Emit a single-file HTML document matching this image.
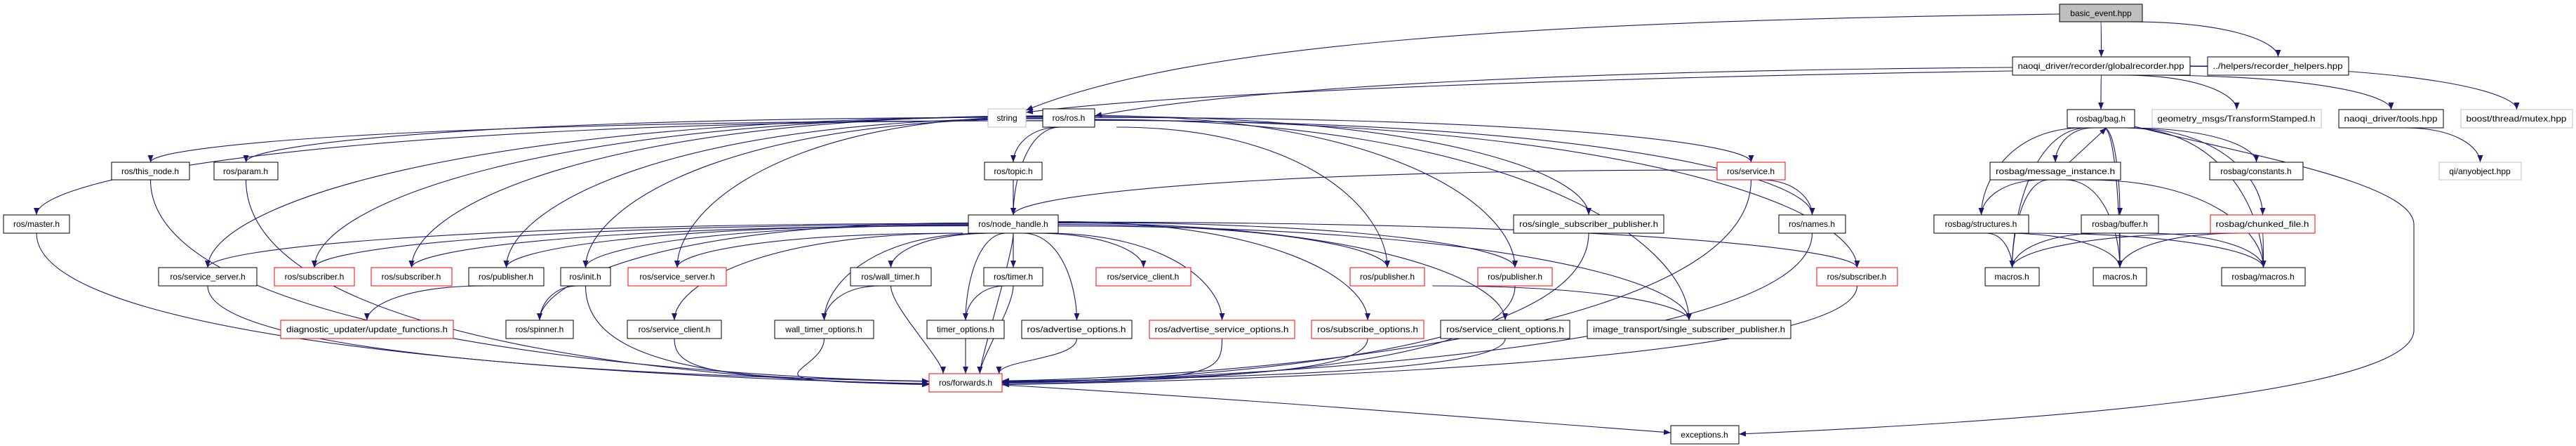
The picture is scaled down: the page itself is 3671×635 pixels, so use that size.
<!DOCTYPE html>
<html><head><meta charset="utf-8"><style>
html,body{margin:0;padding:0;background:#fff;}
svg{display:block;}
text{font-family:"Liberation Sans",sans-serif;font-size:12px;fill:#000;}
</style></head><body>
<svg id="g" width="3671" height="635" viewBox="0 0 3671 635" xmlns="http://www.w3.org/2000/svg">
<defs><marker id="a" markerWidth="10" markerHeight="8" refX="10" refY="4" orient="auto" markerUnits="userSpaceOnUse"><path d="M0,0 L10,4 L0,8 z" fill="#191970"/></marker></defs>
<g id="edges" fill="none" stroke="#191970" stroke-width="1.1"></g>
<g id="nodes">
<rect x="2935" y="6" width="118" height="25" fill="#bfbfbf" stroke="#000"/><text x="2994" y="23" text-anchor="middle">basic_event.hpp</text>
<rect x="2868" y="81" width="253" height="26" fill="#fff" stroke="#000"/><text x="2994" y="98" text-anchor="middle" textLength="237" lengthAdjust="spacingAndGlyphs">naoqi_driver/recorder/globalrecorder.hpp</text>
<rect x="3146" y="81" width="201" height="26" fill="#fff" stroke="#000"/><text x="3246" y="98" text-anchor="middle" textLength="185" lengthAdjust="spacingAndGlyphs">../helpers/recorder_helpers.hpp</text>
<rect x="1408" y="155" width="54" height="26" fill="#fff" stroke="#bfbfbf"/><text x="1435" y="172" text-anchor="middle">string</text>
<rect x="1486" y="155" width="74" height="26" fill="#fff" stroke="#000"/><text x="1523" y="172" text-anchor="middle">ros/ros.h</text>
<rect x="2946" y="156" width="96" height="26" fill="#fff" stroke="#000"/><text x="2994" y="173" text-anchor="middle">rosbag/bag.h</text>
<rect x="3067" y="156" width="241" height="26" fill="#fff" stroke="#bfbfbf"/><text x="3187" y="173" text-anchor="middle" textLength="225" lengthAdjust="spacingAndGlyphs">geometry_msgs/TransformStamped.h</text>
<rect x="3333" y="156" width="149" height="26" fill="#fff" stroke="#000"/><text x="3407" y="173" text-anchor="middle" textLength="133" lengthAdjust="spacingAndGlyphs">naoqi_driver/tools.hpp</text>
<rect x="3507" y="156" width="159" height="26" fill="#fff" stroke="#bfbfbf"/><text x="3586" y="173" text-anchor="middle" textLength="143" lengthAdjust="spacingAndGlyphs">boost/thread/mutex.hpp</text>
<rect x="159" y="231" width="111" height="25" fill="#fff" stroke="#000"/><text x="214" y="248" text-anchor="middle">ros/this_node.h</text>
<rect x="305" y="231" width="91" height="25" fill="#fff" stroke="#000"/><text x="350" y="248" text-anchor="middle">ros/param.h</text>
<rect x="1403" y="231" width="82" height="25" fill="#fff" stroke="#000"/><text x="1444" y="248" text-anchor="middle">ros/topic.h</text>
<rect x="2447" y="231" width="97" height="25" fill="#fff" stroke="#f00"/><text x="2495" y="248" text-anchor="middle">ros/service.h</text>
<rect x="2836" y="231" width="186" height="25" fill="#fff" stroke="#000"/><text x="2929" y="248" text-anchor="middle" textLength="170" lengthAdjust="spacingAndGlyphs">rosbag/message_instance.h</text>
<rect x="3149" y="231" width="133" height="25" fill="#fff" stroke="#000"/><text x="3215" y="248" text-anchor="middle">rosbag/constants.h</text>
<rect x="3476" y="231" width="117" height="25" fill="#fff" stroke="#bfbfbf"/><text x="3534" y="248" text-anchor="middle">qi/anyobject.hpp</text>
<rect x="5" y="306" width="94" height="26" fill="#fff" stroke="#000"/><text x="52" y="323" text-anchor="middle">ros/master.h</text>
<rect x="1380" y="306" width="128" height="26" fill="#fff" stroke="#000"/><text x="1444" y="323" text-anchor="middle">ros/node_handle.h</text>
<rect x="2157" y="306" width="214" height="26" fill="#fff" stroke="#000"/><text x="2264" y="323" text-anchor="middle" textLength="198" lengthAdjust="spacingAndGlyphs">ros/single_subscriber_publisher.h</text>
<rect x="2535" y="306" width="95" height="26" fill="#fff" stroke="#000"/><text x="2582" y="323" text-anchor="middle">ros/names.h</text>
<rect x="2756" y="306" width="135" height="26" fill="#fff" stroke="#000"/><text x="2823" y="323" text-anchor="middle">rosbag/structures.h</text>
<rect x="2966" y="306" width="110" height="26" fill="#fff" stroke="#000"/><text x="3021" y="323" text-anchor="middle">rosbag/buffer.h</text>
<rect x="3150" y="306" width="149" height="26" fill="#fff" stroke="#f00"/><text x="3224" y="323" text-anchor="middle" textLength="133" lengthAdjust="spacingAndGlyphs">rosbag/chunked_file.h</text>
<rect x="226" y="381" width="140" height="26" fill="#fff" stroke="#000"/><text x="296" y="398" text-anchor="middle">ros/service_server.h</text>
<rect x="391" y="381" width="114" height="26" fill="#fff" stroke="#f00"/><text x="448" y="398" text-anchor="middle">ros/subscriber.h</text>
<rect x="529" y="381" width="115" height="26" fill="#fff" stroke="#f00"/><text x="586" y="398" text-anchor="middle">ros/subscriber.h</text>
<rect x="668" y="381" width="107" height="26" fill="#fff" stroke="#000"/><text x="721" y="398" text-anchor="middle">ros/publisher.h</text>
<rect x="799" y="381" width="71" height="26" fill="#fff" stroke="#000"/><text x="834" y="398" text-anchor="middle">ros/init.h</text>
<rect x="895" y="381" width="140" height="26" fill="#fff" stroke="#f00"/><text x="965" y="398" text-anchor="middle">ros/service_server.h</text>
<rect x="1212" y="381" width="115" height="26" fill="#fff" stroke="#000"/><text x="1269" y="398" text-anchor="middle">ros/wall_timer.h</text>
<rect x="1402" y="381" width="84" height="26" fill="#fff" stroke="#000"/><text x="1444" y="398" text-anchor="middle">ros/timer.h</text>
<rect x="1562" y="381" width="135" height="26" fill="#fff" stroke="#f00"/><text x="1629" y="398" text-anchor="middle">ros/service_client.h</text>
<rect x="1924" y="381" width="106" height="26" fill="#fff" stroke="#f00"/><text x="1977" y="398" text-anchor="middle">ros/publisher.h</text>
<rect x="2106" y="381" width="106" height="26" fill="#fff" stroke="#f00"/><text x="2159" y="398" text-anchor="middle">ros/publisher.h</text>
<rect x="2589" y="381" width="115" height="26" fill="#fff" stroke="#f00"/><text x="2646" y="398" text-anchor="middle">ros/subscriber.h</text>
<rect x="2829" y="381" width="77" height="26" fill="#fff" stroke="#000"/><text x="2867" y="398" text-anchor="middle">macros.h</text>
<rect x="2983" y="381" width="76" height="26" fill="#fff" stroke="#000"/><text x="3021" y="398" text-anchor="middle">macros.h</text>
<rect x="3166" y="381" width="119" height="26" fill="#fff" stroke="#000"/><text x="3225" y="398" text-anchor="middle">rosbag/macros.h</text>
<rect x="400" y="456" width="246" height="26" fill="#fff" stroke="#f00"/><text x="523" y="473" text-anchor="middle" textLength="230" lengthAdjust="spacingAndGlyphs">diagnostic_updater/update_functions.h</text>
<rect x="721" y="456" width="96" height="26" fill="#fff" stroke="#000"/><text x="769" y="473" text-anchor="middle">ros/spinner.h</text>
<rect x="894" y="456" width="134" height="26" fill="#fff" stroke="#000"/><text x="961" y="473" text-anchor="middle">ros/service_client.h</text>
<rect x="1104" y="456" width="141" height="26" fill="#fff" stroke="#000"/><text x="1174" y="473" text-anchor="middle">wall_timer_options.h</text>
<rect x="1321" y="456" width="110" height="26" fill="#fff" stroke="#000"/><text x="1376" y="473" text-anchor="middle">timer_options.h</text>
<rect x="1456" y="456" width="157" height="26" fill="#fff" stroke="#000"/><text x="1534" y="473" text-anchor="middle" textLength="141" lengthAdjust="spacingAndGlyphs">ros/advertise_options.h</text>
<rect x="1638" y="456" width="207" height="26" fill="#fff" stroke="#f00"/><text x="1741" y="473" text-anchor="middle" textLength="191" lengthAdjust="spacingAndGlyphs">ros/advertise_service_options.h</text>
<rect x="1869" y="456" width="160" height="26" fill="#fff" stroke="#f00"/><text x="1949" y="473" text-anchor="middle" textLength="144" lengthAdjust="spacingAndGlyphs">ros/subscribe_options.h</text>
<rect x="2053" y="456" width="184" height="26" fill="#fff" stroke="#000"/><text x="2145" y="473" text-anchor="middle" textLength="168" lengthAdjust="spacingAndGlyphs">ros/service_client_options.h</text>
<rect x="2262" y="456" width="290" height="26" fill="#fff" stroke="#000"/><text x="2407" y="473" text-anchor="middle" textLength="274" lengthAdjust="spacingAndGlyphs">image_transport/single_subscriber_publisher.h</text>
<rect x="1324" y="532" width="104" height="26" fill="#fff" stroke="#f00"/><text x="1376" y="549" text-anchor="middle">ros/forwards.h</text>
<rect x="2381" y="606" width="97" height="26" fill="#fff" stroke="#000"/><text x="2429" y="623" text-anchor="middle">exceptions.h</text>
</g>
</svg>
<script>
var N={be:[2935,6,3053,31],gr:[2868,81,3121,107],hl:[3146,81,3347,107],str:[1408,155,1462,181],ros:[1486,155,1560,181],bag:[2946,156,3042,182],geo:[3067,156,3308,182],tools:[3333,156,3482,182],mtx:[3507,156,3666,182],tn:[159,231,270,256],par:[305,231,396,256],top:[1403,231,1485,256],srv:[2447,231,2544,256],mi:[2836,231,3022,256],con:[3149,231,3282,256],qi:[3476,231,3593,256],mas:[5,306,99,332],nh:[1380,306,1508,332],ssp:[2157,306,2371,332],nam:[2535,306,2630,332],st:[2756,306,2891,332],buf:[2966,306,3076,332],cf:[3150,306,3299,332],ssb:[226,381,366,407],sub1:[391,381,505,407],sub2:[529,381,644,407],pubb:[668,381,775,407],init:[799,381,870,407],ssr:[895,381,1035,407],wt:[1212,381,1327,407],tim:[1402,381,1486,407],scr:[1562,381,1697,407],pub1:[1924,381,2030,407],pub2:[2106,381,2212,407],subr:[2589,381,2704,407],m1:[2829,381,2906,407],m2:[2983,381,3059,407],rm:[3166,381,3285,407],diag:[400,456,646,482],spin:[721,456,817,482],scb:[894,456,1028,482],wto:[1104,456,1245,482],to:[1321,456,1431,482],ao:[1456,456,1613,482],aso:[1638,456,1845,482],so:[1869,456,2029,482],sco:[2053,456,2237,482],it:[2262,456,2552,482],fw:[1324,532,1428,558],exc:[2381,606,2478,632]};
var E="be-gr be-hl gr-hl gr-bag gr-geo gr-tools gr-mtx tools-qi bag-mi mi-bag bag-st bag-buf bag-con bag-cf bag-m1 bag-m2 bag-rm mi-st mi-m1 mi-m2 mi-rm st-m1 st-m2 st-rm buf-m1 buf-m2 buf-rm cf-m1 cf-m2 cf-rm ros-mas ros-tn ros-par ros-ssb ros-sub1 ros-sub2 ros-pubb ros-init ros-ssr ros-top ros-nh ros-pub1 ros-pub2 ros-ssp ros-srv ros-nam ros-subr ros-it top-nh srv-nh srv-nam srv-fw nh-ssb nh-sub1 nh-sub2 nh-pubb nh-init nh-ssr nh-wt nh-tim nh-scr nh-scb nh-spin nh-wto nh-to nh-ao nh-aso nh-so nh-sco nh-pub1 nh-pub2 nh-subr nh-fw nh-it wt-wto wt-fw tim-to tim-fw init-spin pubb-diag pub1-it mas-fw tn-fw par-fw ssb-fw init-fw scb-fw wto-fw to-fw ao-fw aso-fw so-fw sco-fw ssp-fw nam-fw subr-fw pub2-fw fw-exc".split(" ");
var g=document.getElementById("edges"),ns="http://www.w3.org/2000/svg";
function add(d){var p=document.createElementNS(ns,"path");p.setAttribute("d",d);p.setAttribute("marker-end","url(#a)");g.appendChild(p);}
E.forEach(function(e){var k=e.split("-"),s=N[k[0]],t=N[k[1]];
 var scx=(s[0]+s[2])/2,tcx=(t[0]+t[2])/2,smy=(s[1]+s[3])/2,tmy=(t[1]+t[3])/2;
 var x0,y0,x1,y1,d;
 if(k[1]=="fw"||k[1]=="exc"&&k[0]=="fw"){
  if(k[0]=="fw"){add("M1428,548 C1800,570 2100,595 2381,616");return;}
  if(Math.abs(scx-1376)<160){x0=scx;y0=s[3];x1=tcx+(scx-tcx)*0.3;y1=t[1];add("M"+x0+","+y0+" C"+x0+","+(y0+30)+" "+x1+","+(y1-20)+" "+x1+","+y1);return;}
  var left=scx<1376;x1=left?1324:1428;y1=545+(left?1:-1)*(Math.random()*6-3);
  x0=scx;y0=s[3];add("M"+x0+","+y0+" C"+x0+","+(y0+(y1-y0)*0.8)+" "+(x1+(left?-300:300))+","+(y1-5)+" "+x1+","+y1);return;}
 if(t[1]>s[3]){
  if(Math.abs(tcx-scx)>500){x0=tcx<scx?s[0]:s[2];y0=smy+(Math.random()*8-4);}else{x0=scx+(tcx-scx)*0.15;y0=s[3];}
  x1=tcx;y1=t[1];
  add("M"+x0+","+y0+" C"+(x0+(x1-x0)*0.7)+","+y0+" "+x1+","+(y1-(y1-y0)*0.4)+" "+x1+","+y1);
 }else if(t[3]<s[1]){x0=scx+20;y0=s[1];x1=tcx+8;y1=t[3];add("M"+x0+","+y0+" L"+x1+","+y1);}
 else{x0=s[0];y0=smy;x1=t[2];y1=tmy;add("M"+x0+","+y0+" L"+x1+","+y1);}
});
add("M2935,20 C2200,30 1700,60 1462,157");
add("M2868,96 C2300,100 1800,120 1560,165");
add("M2868,101 C2300,110 1700,130 1462,160");
add("M3042,180 C3200,220 3440,260 3440,320 L3440,470 C3440,560 2900,600 2478,618");
</script>
</body></html>
